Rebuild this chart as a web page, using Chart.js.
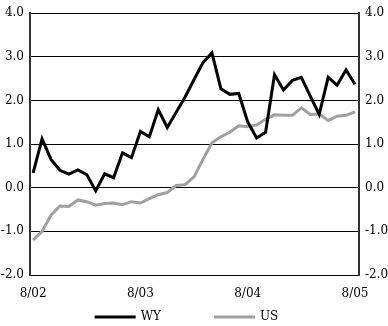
<!DOCTYPE html>
<html lang="en">
<head>
    <meta charset="UTF-8">
    <title>WY vs US</title>
    <script src="https://cdn.jsdelivr.net/npm/chart.js@4.4.1/dist/chart.umd.min.js"></script>
    <style>
        body {
            margin: 0;
            background: #fff;
        }
        #chart-container {
            width: 388px;
            height: 326px;
        }
    </style>
</head>
<body>
    <div id="chart-container">
        <canvas id="wyChart"></canvas>
    </div>

    <script>
        // monthly, Aug 2002 - Aug 2005
        const months = [
            '8/02', '9/02', '10/02', '11/02', '12/02',
            '1/03', '2/03', '3/03', '4/03', '5/03', '6/03', '7/03', '8/03', '9/03', '10/03', '11/03', '12/03',
            '1/04', '2/04', '3/04', '4/04', '5/04', '6/04', '7/04', '8/04', '9/04', '10/04', '11/04', '12/04',
            '1/05', '2/05', '3/05', '4/05', '5/05', '6/05', '7/05', '8/05'
        ];
        const wyValues = [
            0.34, 1.12, 0.65, 0.40, 0.31, 0.41, 0.30, -0.07, 0.32, 0.23,
            0.80, 0.69, 1.29, 1.17, 1.79, 1.38, 1.73, 2.08, 2.48, 2.87,
            3.09, 2.27, 2.14, 2.16, 1.51, 1.14, 1.27, 2.59, 2.24, 2.46,
            2.53, 2.10, 1.68, 2.53, 2.35, 2.70, 2.37
        ];
        const usValues = [
            -1.20, -1.00, -0.63, -0.42, -0.43, -0.28, -0.32, -0.40, -0.36, -0.35,
            -0.39, -0.32, -0.35, -0.25, -0.16, -0.11, 0.05, 0.07, 0.25, 0.65,
            1.03, 1.17, 1.27, 1.42, 1.40, 1.44, 1.57, 1.67, 1.66, 1.66,
            1.83, 1.68, 1.69, 1.54, 1.64, 1.66, 1.74
        ];
        const xTickMonths = ['8/02', '8/03', '8/04', '8/05'];

        const FONT = { family: '"DejaVu Serif", serif', size: 12 };

        // legend drawn as line samples under the axis
        const lineLegend = {
            id: 'lineLegend',
            afterDraw(chart) {
                const ctx = chart.ctx;
                const area = chart.chartArea;
                const sample = 41, gap = 5, spacing = 53;
                ctx.save();
                ctx.font = FONT.size + 'px ' + FONT.family;
                const items = chart.data.datasets.map(ds => ({
                    ds: ds,
                    w: sample + gap + ctx.measureText(ds.label).width
                }));
                const total = items.reduce((s, it) => s + it.w, 0) + spacing * (items.length - 1);
                let x = (area.left + area.right) / 2 - 8 - total / 2;
                const y = 317;
                items.forEach(it => {
                    ctx.strokeStyle = it.ds.borderColor;
                    ctx.lineWidth = 3;
                    ctx.beginPath();
                    ctx.moveTo(x, y);
                    ctx.lineTo(x + sample, y);
                    ctx.stroke();
                    ctx.fillStyle = '#000';
                    ctx.textBaseline = 'middle';
                    ctx.fillText(it.ds.label, x + sample + gap, y);
                    x += it.w + spacing;
                });
                ctx.restore();
            }
        };

        const ctx = document.getElementById('wyChart').getContext('2d');
        const wyChart = new Chart(ctx, {
            type: 'line',
            data: {
                datasets: [{
                    label: 'WY',
                    data: wyValues.map((v, i) => ({ x: i, y: v })),
                    borderColor: '#000000',
                    borderWidth: 3,
                    borderJoinStyle: 'miter'
                }, {
                    label: 'US',
                    data: usValues.map((v, i) => ({ x: i, y: v })),
                    borderColor: '#a0a0a0',
                    borderWidth: 3,
                    borderJoinStyle: 'miter'
                }]
            },
            options: {
                responsive: true,
                maintainAspectRatio: false,
                animation: false,
                elements: {
                    point: { radius: 0 },
                    line: { tension: 0 }
                },
                layout: {
                    padding: { left: 0, right: 0, top: 0, bottom: 21 }
                },
                plugins: {
                    legend: { display: false },
                    tooltip: { enabled: false }
                },
                scales: {
                    x: {
                        type: 'linear',
                        min: -0.35,
                        max: 36.45,
                        grid: { display: false, drawTicks: false },
                        border: { color: '#000', width: 1 },
                        afterBuildTicks: axis => {
                            axis.ticks = xTickMonths.map(m => ({ value: months.indexOf(m) }));
                        },
                        afterFit: axis => { axis.height = 30; },
                        ticks: {
                            color: '#000',
                            font: FONT,
                            padding: 12,
                            maxRotation: 0,
                            callback: value => months[value]
                        }
                    },
                    y: {
                        position: 'left',
                        min: -2,
                        max: 4,
                        grid: { color: '#000', lineWidth: 1, drawTicks: false },
                        border: { color: '#333', width: 2 },
                        afterFit: axis => { axis.width = 30; },
                        ticks: {
                            stepSize: 1,
                            color: '#000',
                            font: FONT,
                            padding: 6,
                            callback: value => value.toFixed(1)
                        }
                    },
                    y2: {
                        position: 'right',
                        min: -2,
                        max: 4,
                        grid: { display: false, drawTicks: false },
                        border: { color: '#333', width: 2 },
                        afterFit: axis => { axis.width = 29; },
                        ticks: {
                            stepSize: 1,
                            color: '#000',
                            font: FONT,
                            padding: 6,
                            callback: value => value.toFixed(1)
                        }
                    }
                }
            },
            plugins: [lineLegend]
        });
    </script>
</body>
</html>
